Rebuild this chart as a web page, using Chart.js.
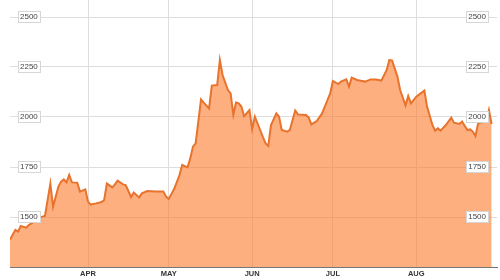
<!DOCTYPE html>
<html>
<head>
<meta charset="utf-8">
<script src="https://cdn.jsdelivr.net/npm/chart.js@4"></script>
<style>
    html, body { margin: 0; padding: 0; background: #fff; }
    #wrap { width: 500px; height: 280px; }
</style>
</head>
<body>
<div id="wrap"><canvas id="price-chart"></canvas></div>
<script>
// days counted from 1 March
var days = [2, 4, 5, 6, 8, 9, 10, 11, 12, 14, 15, 17, 18, 20, 21, 22, 23, 24, 25, 27, 28, 30,
    31, 32, 34, 36, 37, 38, 40, 41, 42, 44, 45, 47, 48, 50, 51, 53, 56, 59, 60,
    61, 63, 65, 66, 68, 69, 70, 71, 73, 74, 76, 77, 79, 80, 81, 83, 84, 85, 86, 87, 88, 89, 91,
    92, 93, 96, 97, 98, 99, 101, 102, 103, 105, 106, 108, 109, 112, 113, 114, 116, 118, 120, 121,
    122, 124, 125, 127, 128, 129, 131, 132, 134, 136, 138, 140, 142, 143, 144, 146, 147, 149, 150, 151,
    153, 155, 156, 157, 159, 160, 161, 162, 164, 166, 167, 169, 170, 172, 173, 174, 175, 176, 177, 179, 180, 181];

var prices = [1388, 1435, 1427, 1455, 1447, 1460, 1468, 1477, 1493, 1502, 1505, 1667, 1552, 1652, 1677, 1688, 1673, 1710, 1673, 1672, 1627, 1638,
    1577, 1562, 1568, 1575, 1585, 1667, 1648, 1663, 1682, 1663, 1660, 1600, 1622, 1598, 1618, 1630, 1627, 1628, 1602,
    1590, 1640, 1710, 1760, 1748, 1793, 1852, 1868, 2088, 2072, 2043, 2157, 2160, 2285, 2210, 2135, 2118, 2012, 2072, 2068, 2052, 2004, 2035,
    1940, 2002, 1900, 1868, 1855, 1960, 2018, 2002, 1935, 1927, 1935, 2032, 2013, 2010, 1998, 1963, 1980, 2018, 2085, 2118,
    2180, 2165, 2177, 2188, 2152, 2197, 2185, 2182, 2177, 2188, 2188, 2182, 2235, 2285, 2282, 2202, 2135, 2058, 2105, 2068,
    2102, 2122, 2132, 2052, 1960, 1932, 1943, 1932, 1960, 1997, 1972, 1965, 1977, 1935, 1938, 1927, 1905, 1968, 1972, 1977, 2035, 1965];

var monthDays = [31, 61, 92, 122, 153];
var monthLabels = ['APR', 'MAY', 'JUN', 'JUL', 'AUG'];
var yTicks = [1500, 1750, 2000, 2250, 2500];

var Y_MIN = 1250, Y_MAX = 2585;
var LEFT_PAD = 10, RIGHT_PAD = 11;

var points = days.map(function (d, i) {
    return { x: d, y: prices[i] };
});

// white framed boxes behind the value labels, drawn over the area
var labelBoxes = {
    id: 'labelBoxes',
    afterDatasetsDraw: function (chart) {
        var ctx = chart.ctx;
        ctx.save();
        ctx.font = '8px "Liberation Sans"';
        ctx.fillStyle = '#fff';
        ctx.strokeStyle = '#d6d6d6';
        ctx.lineWidth = 1;
        ['yl', 'yr'].forEach(function (id) {
            var s = chart.scales[id];
            yTicks.forEach(function (v) {
                var w = Math.round(ctx.measureText(String(v)).width) + 4;
                var py = Math.round(s.getPixelForValue(v));
                var x0 = id === 'yl' ? s.right + LEFT_PAD - 2 : s.left - RIGHT_PAD - w + 2;
                x0 = Math.round(x0) + 0.5;
                ctx.fillRect(x0, py - 5.5, w, 11);
                ctx.strokeRect(x0, py - 5.5, w, 11);
            });
        });
        ctx.restore();
    }
};

function fixAxis(scale) {
    scale.width = 0;
    scale.paddingTop = 0;
    scale.paddingBottom = 0;
}

function setTicks(axis) {
    axis.ticks = yTicks.map(function (v) { return { value: v }; });
}

function labelAxis(pos, pad) {
    return {
        position: pos,
        z: 1,
        min: Y_MIN,
        max: Y_MAX,
        afterBuildTicks: setTicks,
        afterFit: fixAxis,
        ticks: {
            z: 1,
            padding: pad,
            mirror: true,
            color: '#444',
            font: { family: 'Liberation Sans', size: 8 },
            callback: function (v) { return String(v); }
        },
        grid: { display: false, drawTicks: false },
        border: { display: false }
    };
}

var config = {
    type: 'line',
    data: {
        datasets: [{
            data: points,
            yAxisID: 'y',
            borderColor: '#e8732c',
            borderWidth: 2,
            backgroundColor: 'rgba(252, 122, 43, 0.6)',
            fill: 'start',
            pointRadius: 0,
            tension: 0
        }]
    },
    options: {
        responsive: true,
        maintainAspectRatio: false,
        animation: false,
        layout: { padding: { left: 10, right: 3, top: 0, bottom: 0 } },
        plugins: {
            legend: { display: false },
            tooltip: { enabled: false }
        },
        scales: {
            x: {
                type: 'linear',
                min: 2,
                max: 183,
                afterBuildTicks: function (axis) {
                    axis.ticks = monthDays.map(function (v) { return { value: v }; });
                },
                ticks: {
                    padding: 2,
                    color: '#333',
                    font: { family: 'Liberation Sans', size: 7.5, weight: 'bold' },
                    callback: function (v) {
                        var i = monthDays.indexOf(v);
                        return i >= 0 ? monthLabels[i] : '';
                    }
                },
                grid: { color: '#dedede', drawTicks: false },
                border: { color: '#777' }
            },
            // grid only
            y: {
                position: 'left',
                min: Y_MIN,
                max: Y_MAX,
                afterBuildTicks: setTicks,
                afterFit: fixAxis,
                ticks: { display: false },
                grid: { color: '#dedede', drawTicks: false },
                border: { display: false }
            },
            yl: labelAxis('left', LEFT_PAD),
            yr: labelAxis('right', -RIGHT_PAD)
        }
    },
    plugins: [labelBoxes]
};

window.onload = function () {
    var ctx = document.getElementById('price-chart').getContext('2d');
    window.priceChart = new Chart(ctx, config);
};
</script>
</body>
</html>
